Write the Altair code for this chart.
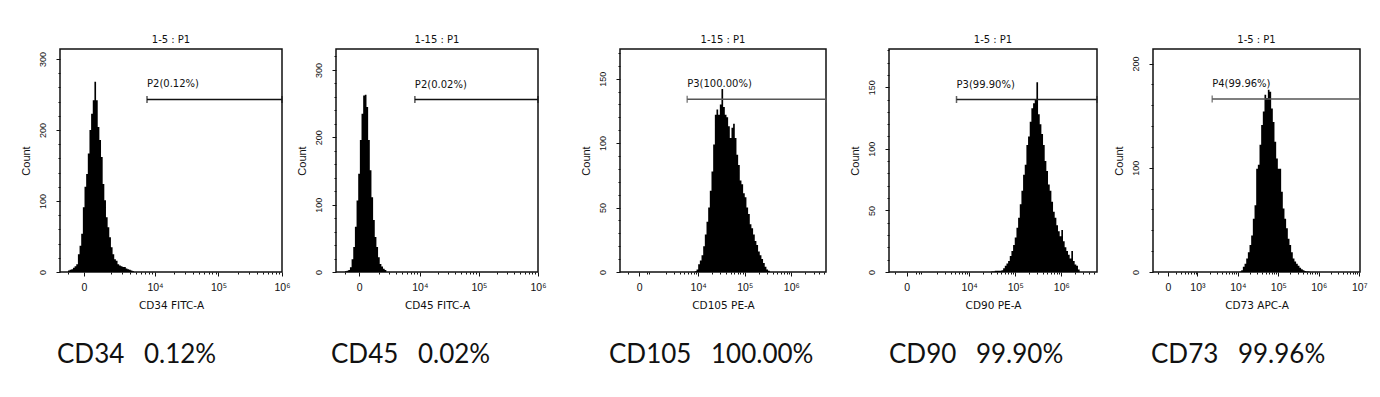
import math
import altair as alt
import pandas as pd

# ---------------- data ----------------
panel_titles = ["1-5 : P1", "1-15 : P1", "1-15 : P1", "1-5 : P1", "1-5 : P1"]
x_axis_titles = ["CD34 FITC-A", "CD45 FITC-A", "CD105 PE-A", "CD90 PE-A", "CD73 APC-A"]
bottom_labels = ["CD34\u2002 0.12%", "CD45\u2002 0.02%", "CD105\u2002 100.00%",
                 "CD90\u2002 99.90%", "CD73\u2002 99.96%"]
gate_labels = ["P2(0.12%)", "P2(0.02%)", "P3(100.00%)", "P3(99.90%)", "P4(99.96%)"]
gate_start = [3.874, 3.916, 3.764, 3.725, 3.365]
gate_count = [243, 256, 134, 140, 166]

# axis extents (x in decades of a biexponential display, "0" sits at zero_pos)
x_min = [2.504, 2.581, 2.322, 2.260, 1.901]
x_max = [6.000, 6.000, 6.744, 6.774, 7.020]
y_max = [314, 331, 173, 181, 214]
zero_pos = [2.882, 2.975, 2.735, 2.641, 2.272]
decade_pos = [[4, 5, 6], [4, 5, 6], [4, 5, 6], [4, 5, 6], [3, 4, 5, 6, 7]]
decade_labels = [["10\u2074", "10\u2075", "10\u2076"],
                 ["10\u2074", "10\u2075", "10\u2076"],
                 ["10\u2074", "10\u2075", "10\u2076"],
                 ["10\u2074", "10\u2075", "10\u2076"],
                 ["10\u00b3", "10\u2074", "10\u2075", "10\u2076", "10\u2077"]]
count_ticks = [[0, 100, 200, 300], [0, 100, 200, 300], [0, 50, 100, 150], [0, 50, 100, 150], [0, 100, 200]]
count_minor_step = [20, 20, 10, 10, 20]

# histograms: bin start (decades) and event count
cd34_x = [2.630, 2.656, 2.682, 2.708, 2.734, 2.760, 2.786, 2.812, 2.838, 2.864,
          2.890, 2.916, 2.942, 2.968, 2.994, 3.020, 3.046, 3.072, 3.098, 3.124,
          3.150, 3.176, 3.202, 3.228, 3.254, 3.280, 3.306, 3.332, 3.358, 3.384,
          3.410, 3.436, 3.462, 3.488, 3.514, 3.540, 3.566, 3.592, 3.618, 3.644, 3.670]
cd34_n = [2, 3, 4, 6, 8, 11, 25, 37, 54, 91,
          120, 138, 167, 200, 223, 242, 268, 242, 204, 186,
          162, 124, 101, 77, 63, 49, 35, 25, 18, 16,
          11, 9, 8, 7, 7, 5, 4, 3, 2, 1, 1]

cd45_x = [2.733, 2.761, 2.789, 2.817, 2.845, 2.873, 2.901, 2.929, 2.957, 2.985,
          3.013, 3.041, 3.069, 3.097, 3.125, 3.153, 3.181, 3.209, 3.237, 3.265,
          3.293, 3.321, 3.349, 3.377, 3.405, 3.433]
cd45_n = [1, 2, 3, 7, 19, 37, 67, 106, 146, 196,
          235, 262, 263, 245, 196, 151, 111, 77, 52, 37,
          22, 12, 8, 5, 3, 1]

cd105_x = [3.929, 3.965, 4.000, 4.036, 4.072, 4.108, 4.143, 4.179, 4.215, 4.250,
           4.286, 4.322, 4.358, 4.393, 4.429, 4.465, 4.500, 4.536, 4.572, 4.608,
           4.643, 4.679, 4.715, 4.750, 4.786, 4.822, 4.858, 4.893, 4.929, 4.965,
           5.000, 5.036, 5.072, 5.108, 5.143, 5.179, 5.215, 5.250, 5.286, 5.322,
           5.358, 5.393, 5.429, 5.465, 5.500, 5.536]
cd105_n = [0.5, 2, 6, 9, 13, 20, 29, 39, 50, 63,
           78, 99, 122, 126, 122, 130, 142, 128, 122, 120,
           113, 104, 112, 115, 104, 91, 83, 71, 68, 61,
           58, 50, 45, 37, 34, 29, 24, 21, 16, 13,
           10, 7, 4, 2, 1, 0.5]

cd90_x = [4.484, 4.520, 4.556, 4.592, 4.628, 4.665, 4.701, 4.737, 4.773, 4.809,
          4.845, 4.881, 4.917, 4.953, 4.989, 5.026, 5.062, 5.098, 5.134, 5.170,
          5.206, 5.242, 5.278, 5.314, 5.350, 5.387, 5.423, 5.459, 5.495, 5.531,
          5.567, 5.603, 5.639, 5.675, 5.711, 5.748, 5.784, 5.820, 5.856, 5.892,
          5.928, 5.964, 6.000, 6.036, 6.072, 6.109, 6.145, 6.181, 6.217, 6.253,
          6.289, 6.325, 6.361, 6.397]
cd90_n = [0.5, 0.5, 1, 1, 1, 1, 1.5, 3, 5, 7,
          9, 13, 17, 22, 28, 36, 44, 55, 66, 79,
          87, 103, 110, 122, 133, 137, 140, 154, 128, 120,
          112, 103, 90, 82, 71, 66, 57, 49, 44, 38,
          33, 29, 34, 25, 20, 17, 14, 11, 17, 9,
          6, 5, 2, 0.5]

cd73_x = [4.041, 4.082, 4.123, 4.165, 4.206, 4.247, 4.288, 4.329, 4.370, 4.412,
          4.453, 4.494, 4.535, 4.576, 4.617, 4.658, 4.700, 4.741, 4.782, 4.823,
          4.864, 4.905, 4.947, 4.988, 5.029, 5.070, 5.111, 5.152, 5.193, 5.235,
          5.276, 5.317, 5.358, 5.399, 5.440, 5.481, 5.523, 5.564, 5.605, 5.646,
          5.687, 5.728, 5.770]
cd73_n = [0.6, 1.6, 5, 8, 13, 19, 26, 35, 51, 64,
          99, 103, 122, 141, 154, 170, 167, 175, 173, 157,
          144, 125, 109, 99, 99, 77, 61, 51, 42, 32,
          26, 19, 13, 10, 8, 6, 4, 2.6, 1.6, 1,
          0.6, 0.4, 0]

hist_x = [cd34_x, cd45_x, cd105_x, cd90_x, cd73_x]
hist_n = [cd34_n, cd45_n, cd105_n, cd90_n, cd73_n]

# ---------------- layout / style ----------------
plot_w = [222, 202, 206, 208, 207]
gap_w = [49, 54, 82, 63, 56]
plot_h = 223
label_dx = [-3, -5, -11, 0, -2]
label_y = 314
gate_color = ["#111111", "#111111", "#555555", "#222222", "#555555"]
SMALL = "Liberation Sans"
WIDE = "DejaVu Sans"


def panel(i):
    hist = pd.DataFrame({"x": hist_x[i], "n": hist_n[i]})
    gate = pd.DataFrame({"x": [gate_start[i]], "x2": [x_max[i]], "y": [gate_count[i]],
                         "label": [gate_labels[i]]})
    caps = pd.DataFrame({"x": [gate_start[i], x_max[i]], "y": [gate_count[i], gate_count[i]]})
    bottom = pd.DataFrame({"label": [bottom_labels[i]]})

    xs = alt.Scale(domain=[x_min[i], x_max[i]], nice=False, zero=False)
    ys = alt.Scale(domain=[0, y_max[i]], nice=False, zero=False)

    major_vals = [zero_pos[i]] + decade_pos[i]
    major_labs = ["0"] + decade_labels[i]
    label_expr = ("[" + ",".join("'" + t + "'" for t in major_labs) + "][indexof(["
                  + ",".join(str(v) for v in major_vals) + "], datum.value)]")

    minor_x = []
    if zero_pos[i] - 0.25 > x_min[i]:
        minor_x.append(round(zero_pos[i] - 0.25, 3))
    for k in range(2, 8):
        for m in range(2, 10):
            v = round(k + math.log10(m), 4)
            if zero_pos[i] + 0.15 < v < x_max[i]:
                minor_x.append(v)
    minor_y = [v for v in range(0, y_max[i], count_minor_step[i]) if v not in count_ticks[i]]

    area = alt.Chart(hist).mark_area(interpolate="step-after", color="black").encode(
        x=alt.X("x:Q", scale=xs, axis=alt.Axis(
            values=major_vals, labelExpr=label_expr, title=x_axis_titles[i],
            tickSize=4, tickWidth=1, tickColor="#111", labelFont=SMALL, labelFontSize=10.5,
            labelPadding=6, labelFlush=False, labelOverlap=False, domain=False, grid=False,
            titleFont=WIDE, titleFontSize=10.5, titleFontWeight="normal", titlePadding=8,
            titleColor="#111", labelColor="#111")),
        y=alt.Y("n:Q", scale=ys, stack=None, axis=alt.Axis(
            values=count_ticks[i], title="Count", tickSize=4, tickWidth=1, tickColor="#111",
            labelAngle=270, labelAlign="center", labelBaseline="bottom", labelPadding=9,
            labelFont=SMALL, labelFontSize=9, labelColor="#111", domain=False, grid=False,
            titleFont=SMALL, titleFontSize=11, titleFontWeight="normal", titlePadding=7,
            titleColor="#111")),
    )

    rule = alt.Chart(gate).mark_rule(color=gate_color[i], strokeWidth=1.5).encode(
        x=alt.X("x:Q", scale=xs, axis=alt.Axis(
            values=minor_x, orient="bottom", labels=False, title=None, tickSize=2,
            tickWidth=1, tickColor="#111", domain=False, grid=False)),
        x2="x2:Q",
        y=alt.Y("y:Q", scale=ys, axis=alt.Axis(
            values=minor_y, orient="left", labels=False, title=None, tickSize=2,
            tickWidth=1, tickColor="#111", domain=False, grid=False)),
    )

    cap = alt.Chart(caps).mark_tick(orient="vertical", size=7, thickness=1.5,
                                    color=gate_color[i]).encode(
        x=alt.X("x:Q", scale=xs, axis=None),
        y=alt.Y("y:Q", scale=ys, axis=None),
    )

    gate_text = alt.Chart(gate).mark_text(align="left", baseline="alphabetic", dy=-12,
                                          font=WIDE, fontSize=10, color="#111").encode(
        x=alt.X("x:Q", scale=xs, axis=None),
        y=alt.Y("y:Q", scale=ys, axis=None),
        text="label:N",
    )

    bottom_text = alt.Chart(bottom).mark_text(align="left", baseline="alphabetic",
                                              font="Lato", fontSize=26, color="#111").encode(
        x=alt.value(label_dx[i]),
        y=alt.value(label_y),
        text="label:N",
    )

    return alt.layer(area, rule, cap, gate_text, bottom_text).resolve_axis(
        x="independent", y="independent"
    ).properties(
        width=plot_w[i], height=plot_h,
        title=alt.Title(panel_titles[i], font=WIDE, fontSize=10, fontWeight="normal",
                        color="#111", offset=4),
        view=alt.ViewBackground(stroke="#111111", strokeWidth=1.5),
    )


def spacer(w):
    df = pd.DataFrame({"a": [0]})
    return alt.Chart(df).mark_point(opacity=0).encode(
        x=alt.value(0), y=alt.value(0)
    ).properties(width=w, height=plot_h, view=alt.ViewBackground(strokeWidth=0))


items = []
for i in range(5):
    items.append(spacer(gap_w[i]))
    items.append(panel(i))

chart = alt.hconcat(*items, spacing=0, bounds="flush").properties(
    padding={"left": 0, "top": 26, "right": 0, "bottom": 0},
    background="white",
).configure_view(strokeWidth=0)

chart.save("out.html", embed_options={"renderer": "svg", "actions": False})
